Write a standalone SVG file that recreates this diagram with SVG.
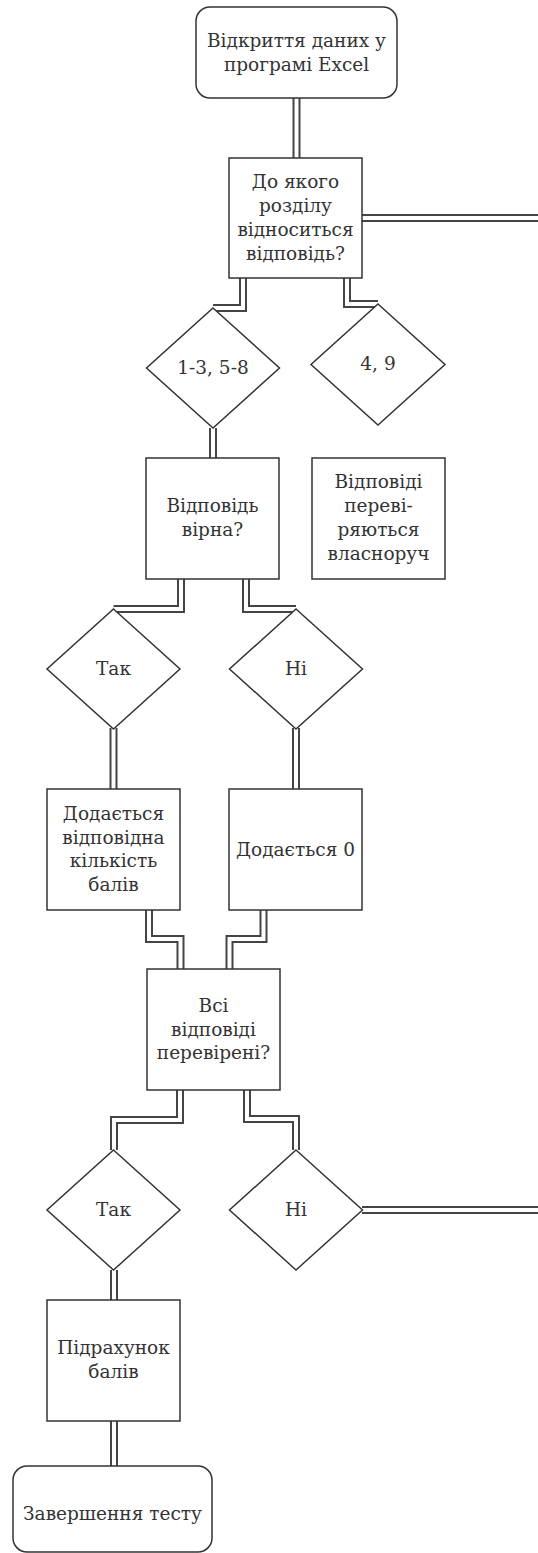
<svg xmlns="http://www.w3.org/2000/svg" xmlns:xlink="http://www.w3.org/1999/xlink" width="538" height="1553" viewBox="0 0 538 1553">
<style>
.node{fill:#fff;stroke:#333;stroke-width:1.5}
.lbl{font-family:"DejaVu Serif","Liberation Serif",serif;font-size:18.5px;fill:#333;text-anchor:middle}
.outer{fill:none;stroke:#444;stroke-width:8}
.inner{fill:none;stroke:#fff;stroke-width:4}
</style>
<defs>
<path id="p1" d="M296.5,98 V158"/>
<path id="p2" d="M362,218 H540"/>
<path id="p3" d="M243,278 V308 H213"/>
<path id="p4" d="M347,278 V304 H378"/>
<path id="p5" d="M213,428 V458"/>
<path id="p6" d="M181,579 V609 H113.5"/>
<path id="p7" d="M246,579 V609 H296"/>
<path id="p8" d="M113.5,728 V789"/>
<path id="p9" d="M296,728 V789"/>
<path id="p10" d="M149,910 V939 H180.5 V969"/>
<path id="p11" d="M263.5,910 V939 H229.5 V969"/>
<path id="p12" d="M180,1090 V1120 H114 V1150"/>
<path id="p13" d="M247,1090 V1119 H296 V1150"/>
<path id="p14" d="M362,1210 H540"/>
<path id="p15" d="M114,1270 V1300"/>
<path id="p16" d="M114,1421 V1466"/>
</defs>
<g id="connectors">
<use xlink:href="#p1" class="outer"/><use xlink:href="#p1" class="inner"/>
<use xlink:href="#p2" class="outer"/><use xlink:href="#p2" class="inner"/>
<use xlink:href="#p3" class="outer"/><use xlink:href="#p3" class="inner"/>
<use xlink:href="#p4" class="outer"/><use xlink:href="#p4" class="inner"/>
<use xlink:href="#p5" class="outer"/><use xlink:href="#p5" class="inner"/>
<use xlink:href="#p6" class="outer"/><use xlink:href="#p6" class="inner"/>
<use xlink:href="#p7" class="outer"/><use xlink:href="#p7" class="inner"/>
<use xlink:href="#p8" class="outer"/><use xlink:href="#p8" class="inner"/>
<use xlink:href="#p9" class="outer"/><use xlink:href="#p9" class="inner"/>
<use xlink:href="#p10" class="outer"/><use xlink:href="#p10" class="inner"/>
<use xlink:href="#p11" class="outer"/><use xlink:href="#p11" class="inner"/>
<use xlink:href="#p12" class="outer"/><use xlink:href="#p12" class="inner"/>
<use xlink:href="#p13" class="outer"/><use xlink:href="#p13" class="inner"/>
<use xlink:href="#p14" class="outer"/><use xlink:href="#p14" class="inner"/>
<use xlink:href="#p15" class="outer"/><use xlink:href="#p15" class="inner"/>
<use xlink:href="#p16" class="outer"/><use xlink:href="#p16" class="inner"/>
</g>
<g id="start">
<rect class="node" x="196" y="7" width="201" height="91" rx="14"/>
<text class="lbl" x="296.5"><tspan x="296.5" y="46.5">Відкриття даних у</tspan><tspan x="296.5" y="70.5">програмі Excel</tspan></text>
</g>
<g id="q-section">
<rect class="node" x="229" y="158" width="133" height="120"/>
<text class="lbl"><tspan x="295.5" y="188">До якого</tspan><tspan x="295.5" y="212">розділу</tspan><tspan x="295.5" y="236">відноситься</tspan><tspan x="295.5" y="260">відповідь?</tspan></text>
</g>
<g id="d-auto">
<polygon class="node" points="213,308 279.5,368 213,428 146.5,368"/>
<text class="lbl" x="213" y="374">1-3, 5-8</text>
</g>
<g id="d-manual">
<polygon class="node" points="378,304 445,364.5 378,425 311,364.5"/>
<text class="lbl" x="378" y="370">4, 9</text>
</g>
<g id="q-correct">
<rect class="node" x="146" y="458" width="133" height="121"/>
<text class="lbl"><tspan x="212.5" y="512">Відповідь</tspan><tspan x="212.5" y="536">вірна?</tspan></text>
</g>
<g id="manual">
<rect class="node" x="312" y="458" width="133" height="121"/>
<text class="lbl"><tspan x="378.5" y="488">Відповіді</tspan><tspan x="378.5" y="512">переві-</tspan><tspan x="378.5" y="536">ряються</tspan><tspan x="378.5" y="560">власноруч</tspan></text>
</g>
<g id="d-yes1">
<polygon class="node" points="113.5,609 180,669 113.5,729 47,669"/>
<text class="lbl" x="113.5" y="675">Так</text>
</g>
<g id="d-no1">
<polygon class="node" points="296,609 362.5,669 296,729 229.5,669"/>
<text class="lbl" x="296" y="675">Ні</text>
</g>
<g id="add-points">
<rect class="node" x="47" y="789" width="133" height="121"/>
<text class="lbl"><tspan x="113.5" y="820">Додається</tspan><tspan x="113.5" y="844">відповідна</tspan><tspan x="113.5" y="867">кількість</tspan><tspan x="113.5" y="891">балів</tspan></text>
</g>
<g id="add-zero">
<rect class="node" x="229" y="789" width="133" height="121"/>
<text class="lbl" x="295.5" y="856">Додається 0</text>
</g>
<g id="q-all">
<rect class="node" x="147" y="969" width="133" height="121"/>
<text class="lbl"><tspan x="213.5" y="1012">Всі</tspan><tspan x="213.5" y="1036">відповіді</tspan><tspan x="213.5" y="1059">перевірені?</tspan></text>
</g>
<g id="d-yes2">
<polygon class="node" points="113.5,1150 180,1210 113.5,1270 47,1210"/>
<text class="lbl" x="113.5" y="1216">Так</text>
</g>
<g id="d-no2">
<polygon class="node" points="296,1150 362.5,1210 296,1270 229.5,1210"/>
<text class="lbl" x="296" y="1216">Ні</text>
</g>
<g id="sum">
<rect class="node" x="47" y="1300" width="133" height="121"/>
<text class="lbl"><tspan x="113.5" y="1354">Підрахунок</tspan><tspan x="113.5" y="1378">балів</tspan></text>
</g>
<g id="end">
<rect class="node" x="13" y="1466" width="199" height="86" rx="14"/>
<text class="lbl" x="112.5" y="1520">Завершення тесту</text>
</g>
</svg>
